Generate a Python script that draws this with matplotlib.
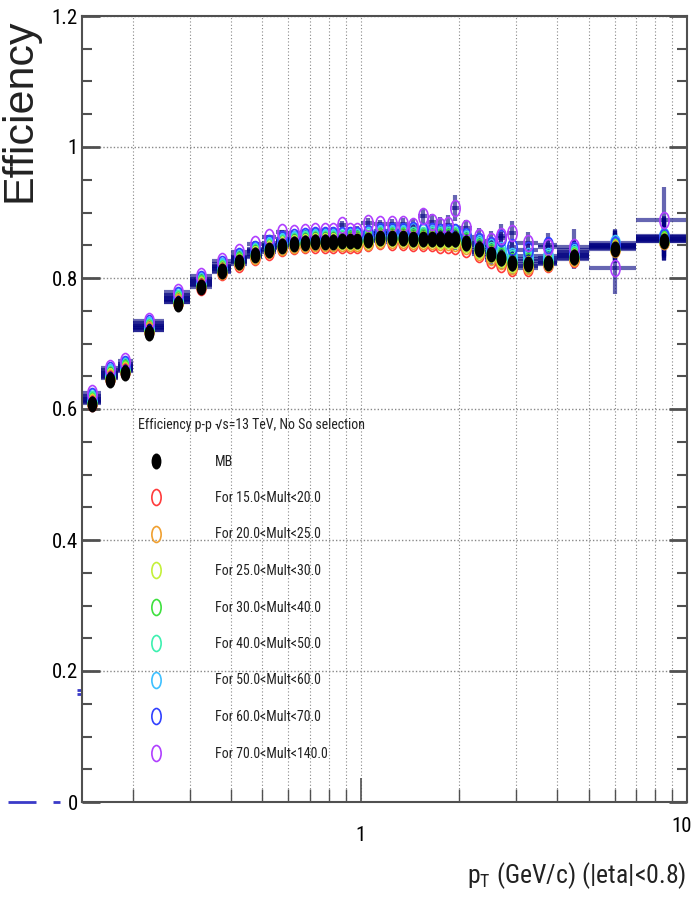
import numpy as np
import matplotlib
matplotlib.use("Agg")
import matplotlib.pyplot as plt
from matplotlib import font_manager
from matplotlib.path import Path
from matplotlib.ticker import MultipleLocator
from matplotlib.transforms import Affine2D, ScaledTranslation


def pick_narrow_font():
    """Return (family, stretch) of a narrow sans face if one is installed."""
    narrow = ("condensed", "semi-condensed", "extra-condensed", "ultra-condensed")
    entries = font_manager.fontManager.ttflist
    for f in entries:
        if f.name == "Liberation Sans Narrow" and f.style == "normal":
            return f.name, f.stretch
    for f in entries:
        if f.name == "Roboto Condensed" and f.style == "normal":
            return f.name, f.stretch
    cands = [f for f in entries
             if f.style == "normal" and str(f.stretch) in narrow
             and f.weight in (400, "normal", "regular", "book")
             and "Mono" not in f.name and "Serif" not in f.name]
    cands.sort(key=lambda f: (str(f.stretch) != "condensed", f.name))
    if cands:
        return cands[0].name, cands[0].stretch
    return None, None


NARROW, STRETCH = pick_narrow_font()
if NARROW:
    plt.rcParams["font.family"] = [NARROW, "DejaVu Sans"]
    plt.rcParams["font.stretch"] = STRETCH
    plt.rcParams["mathtext.fontset"] = "custom"
    plt.rcParams["mathtext.rm"] = f"{NARROW}:stretch={STRETCH}"
    LEG_SIZE, XLAB_SIZE, TICK_SIZE = 10.0, 18.5, 15
else:
    plt.rcParams["font.family"] = ["Liberation Sans", "DejaVu Sans"]
    plt.rcParams["mathtext.fontset"] = "custom"
    plt.rcParams["mathtext.rm"] = "Liberation Sans"
    LEG_SIZE, XLAB_SIZE, TICK_SIZE = 9.3, 16, 14

# pT binning (GeV/c)
PT_EDGES = [0.14, 0.16, 0.18, 0.20, 0.25, 0.30, 0.35, 0.40, 0.45, 0.50,
            0.55, 0.60, 0.65, 0.70, 0.75, 0.80, 0.85, 0.90, 0.95, 1.00,
            1.1, 1.2, 1.3, 1.4, 1.5, 1.6, 1.7, 1.8, 1.9, 2.0,
            2.2, 2.4, 2.6, 2.8, 3.0, 3.5, 4.0, 5.0, 7.0, 10.0]

EFF_MB = [0.607, 0.645, 0.655, 0.716, 0.760, 0.786, 0.810, 0.824, 0.835, 0.843,
          0.849, 0.852, 0.854, 0.855, 0.855, 0.855, 0.856, 0.856, 0.856, 0.858,
          0.861, 0.861, 0.861, 0.860, 0.860, 0.860, 0.859, 0.859, 0.859, 0.853,
          0.844, 0.837, 0.831, 0.823, 0.822, 0.823, 0.832, 0.844, 0.857]

EFF_15_20 = [0.609, 0.648, 0.658, 0.720, 0.763, 0.787, 0.809, 0.822, 0.832, 0.840,
             0.846, 0.849, 0.850, 0.851, 0.851, 0.850, 0.850, 0.851, 0.850, 0.853,
             0.856, 0.855, 0.855, 0.853, 0.853, 0.853, 0.851, 0.851, 0.849, 0.845,
             0.836, 0.828, 0.822, 0.815, 0.816, 0.822, 0.829, 0.846, 0.856]
EFF_20_25 = [0.610, 0.649, 0.659, 0.721, 0.764, 0.789, 0.811, 0.824, 0.834, 0.842,
             0.848, 0.851, 0.852, 0.853, 0.853, 0.853, 0.853, 0.853, 0.853, 0.855,
             0.858, 0.858, 0.858, 0.856, 0.856, 0.856, 0.855, 0.855, 0.854, 0.849,
             0.840, 0.832, 0.826, 0.819, 0.819, 0.823, 0.831, 0.845, 0.857]
EFF_25_30 = [0.612, 0.651, 0.661, 0.723, 0.766, 0.791, 0.813, 0.826, 0.836, 0.844,
             0.850, 0.853, 0.855, 0.856, 0.856, 0.856, 0.856, 0.856, 0.856, 0.858,
             0.861, 0.861, 0.861, 0.859, 0.859, 0.859, 0.858, 0.858, 0.858, 0.852,
             0.843, 0.836, 0.829, 0.822, 0.822, 0.825, 0.833, 0.847, 0.858]
EFF_30_40 = [0.614, 0.653, 0.663, 0.725, 0.768, 0.793, 0.815, 0.828, 0.839, 0.847,
             0.853, 0.856, 0.858, 0.859, 0.859, 0.859, 0.859, 0.859, 0.859, 0.861,
             0.864, 0.864, 0.864, 0.863, 0.863, 0.863, 0.862, 0.862, 0.862, 0.856,
             0.847, 0.840, 0.833, 0.826, 0.826, 0.828, 0.835, 0.849, 0.860]
EFF_40_50 = [0.616, 0.655, 0.665, 0.727, 0.770, 0.795, 0.817, 0.830, 0.841, 0.849,
             0.855, 0.858, 0.860, 0.861, 0.861, 0.861, 0.861, 0.862, 0.862, 0.864,
             0.867, 0.867, 0.867, 0.866, 0.866, 0.866, 0.865, 0.865, 0.866, 0.859,
             0.850, 0.843, 0.837, 0.830, 0.829, 0.831, 0.837, 0.851, 0.862]
EFF_50_60 = [0.618, 0.657, 0.667, 0.729, 0.772, 0.797, 0.819, 0.832, 0.843, 0.851,
             0.857, 0.860, 0.862, 0.863, 0.863, 0.863, 0.864, 0.864, 0.864, 0.866,
             0.869, 0.869, 0.869, 0.872, 0.870, 0.869, 0.868, 0.868, 0.868, 0.862,
             0.853, 0.847, 0.842, 0.834, 0.833, 0.834, 0.840, 0.853, 0.864]
EFF_60_70 = [0.620, 0.659, 0.669, 0.731, 0.774, 0.799, 0.821, 0.834, 0.845, 0.853,
             0.859, 0.862, 0.864, 0.865, 0.865, 0.865, 0.866, 0.866, 0.866, 0.868,
             0.871, 0.871, 0.871, 0.874, 0.872, 0.871, 0.870, 0.870, 0.870, 0.864,
             0.856, 0.851, 0.861, 0.847, 0.842, 0.850, 0.842, 0.850, 0.863]
EFF_70_140 = [0.624, 0.663, 0.673, 0.735, 0.778, 0.803, 0.826, 0.840, 0.852, 0.862,
              0.870, 0.868, 0.870, 0.871, 0.871, 0.872, 0.881, 0.872, 0.872, 0.884,
              0.882, 0.882, 0.882, 0.880, 0.894, 0.885, 0.880, 0.881, 0.907, 0.876,
              0.863, 0.856, 0.864, 0.869, 0.854, 0.848, 0.848, 0.815, 0.889]

# statistical errors
ERR_MULT = [0.002, 0.002, 0.002, 0.002, 0.002, 0.002, 0.002, 0.002, 0.002, 0.002,
            0.002, 0.002, 0.002, 0.003, 0.003, 0.003, 0.003, 0.003, 0.003, 0.003,
            0.003, 0.004, 0.004, 0.004, 0.005, 0.005, 0.005, 0.006, 0.006, 0.006,
            0.007, 0.008, 0.009, 0.010, 0.010, 0.013, 0.016, 0.022, 0.030]
ERR_70_140 = [0.003, 0.003, 0.003, 0.003, 0.003, 0.003, 0.003, 0.004, 0.004, 0.004,
              0.004, 0.004, 0.005, 0.005, 0.005, 0.006, 0.006, 0.006, 0.007, 0.007,
              0.007, 0.008, 0.009, 0.010, 0.011, 0.012, 0.013, 0.015, 0.020, 0.012,
              0.014, 0.016, 0.018, 0.018, 0.016, 0.020, 0.027, 0.040, 0.050]

MULT_LABELS = ["For 15.0<Mult<20.0", "For 20.0<Mult<25.0", "For 25.0<Mult<30.0",
               "For 30.0<Mult<40.0", "For 40.0<Mult<50.0", "For 50.0<Mult<60.0",
               "For 60.0<Mult<70.0", "For 70.0<Mult<140.0"]
MULT_COLOURS = ["#ff3b3b", "#f0a030", "#c4f03a", "#3ee03e",
                "#3df0b0", "#3ec0ff", "#3040ff", "#b040ff"]
MULT_EFF = [EFF_15_20, EFF_20_25, EFF_25_30, EFF_30_40,
            EFF_40_50, EFF_50_60, EFF_60_70, EFF_70_140]
MULT_ERR = [ERR_MULT] * 7 + [ERR_70_140]

# x-error segments of the under-range bins (drawn unclipped)
UNDER_LO = [0.083, 0.114, 0.135, 0.135]
UNDER_HI = [0.101, 0.120, 0.140, 0.140]
UNDER_Y = [0.0, 0.0, 0.165, 0.171]

LEGEND_TITLE = "Efficiency p-p \u221as=13 TeV, No So selection"

# slightly tall oval marker
_circ = Path.unit_circle()
OVAL = Path(Affine2D().scale(0.58, 1.0).transform(_circ.vertices), _circ.codes)

W, H = 694, 901
fig = plt.figure(figsize=(W / 100, H / 100), dpi=100)
ax = fig.add_axes([82 / W, 1 - 802 / H, (687 - 82) / W, (802 - 16) / H])

edges = np.array(PT_EDGES)
centres = 0.5 * (edges[:-1] + edges[1:])
xerr = [centres - edges[:-1], edges[1:] - centres]

ERR_COLOUR = "#000080"
for vals, err in zip(MULT_EFF, MULT_ERR):
    ax.errorbar(centres, vals, xerr=xerr, yerr=err, fmt="none",
                ecolor=ERR_COLOUR, alpha=0.6, elinewidth=3.0, capsize=0, zorder=2)

handles = []
for vals, col in zip(MULT_EFF, MULT_COLOURS):
    h, = ax.plot(centres, vals, ls="none", marker=OVAL, ms=11.5,
                 mfc="none", mec=col, mew=1.2, zorder=3)
    handles.append(h)

mb, = ax.plot(centres, EFF_MB, ls="none", marker=OVAL, ms=10.5,
              color="black", zorder=4)

ax.hlines(UNDER_Y, UNDER_LO, UNDER_HI, colors="#3a3ac8", lw=2, clip_on=False)

ax.set_xscale("log")
ax.set_xlim(0.14, 10)
ax.set_ylim(0, 1.2)

ax.set_xticks([1, 10], ["1", "10"])
ax.set_xticks([0.2, 0.3, 0.4, 0.5, 0.6, 0.7, 0.8, 0.9,
               2, 3, 4, 5, 6, 7, 8, 9], minor=True)
ax.xaxis.set_minor_formatter(plt.NullFormatter())
ax.set_yticks([0, 0.2, 0.4, 0.6, 0.8, 1.0, 1.2],
              ["0", "0.2", "0.4", "0.6", "0.8", "1", "1.2"])
ax.yaxis.set_minor_locator(MultipleLocator(0.05))

AXC = "#505050"
ax.tick_params(axis="y", which="major", direction="in", length=13, width=2.0,
               color=AXC, right=True, labelsize=TICK_SIZE, pad=3)
ax.tick_params(axis="y", which="minor", direction="in", length=7, width=1.5,
               color=AXC, right=True)
ax.tick_params(axis="x", which="major", direction="in", length=17, width=1.2,
               color=AXC, top=False, labelsize=TICK_SIZE, pad=17)
ax.tick_params(axis="x", which="minor", direction="in", length=9.5, width=1.0,
               color=AXC, top=False)
for sp in ax.spines.values():
    sp.set_color(AXC)
    sp.set_linewidth(1.5)

# keep the last x label inside the canvas
last = ax.get_xticklabels()[-1]
last.set_transform(last.get_transform() + ScaledTranslation(-4 / 72, 6 / 72, fig.dpi_scale_trans))

ax.grid(True, which="major", axis="y", ls=(0, (1, 1.5)), color="#888888", lw=1.0)
ax.grid(True, which="both", axis="x", ls=(0, (1, 2)), color="#888888", lw=0.8)
ax.set_axisbelow(True)

# legend geometry in pixels: marker column at 156 px, text at 215 px, rows 37 px apart
fs_px = LEG_SIZE * 100 / 72
leg = ax.legend([mb] + handles, ["MB"] + MULT_LABELS, title=LEGEND_TITLE,
                loc="upper left", bbox_to_anchor=(138 / W, 1 - 418 / H),
                bbox_transform=fig.transFigure, frameon=False,
                fontsize=LEG_SIZE, title_fontsize=LEG_SIZE,
                handlelength=36 / fs_px, handletextpad=41 / fs_px,
                labelspacing=22.5 / fs_px, borderpad=0, borderaxespad=0,
                alignment="left")
leg.get_title().set_color("#222222")
for t in leg.get_texts():
    t.set_color("#222222")

fig.text(20 / W, 1 - 18 / H, "Efficiency", rotation=90, ha="center", va="top",
         fontsize=31, family=["Liberation Sans", "DejaVu Sans"], fontstretch="normal",
         color="#222222")
fig.text(686 / W, 1 - 876 / H, r"p$_{\mathrm{T}}$ (GeV/c) (|eta|<0.8)",
         ha="right", va="center", fontsize=XLAB_SIZE, color="#222222")

fig.savefig("out.png", dpi=100)
